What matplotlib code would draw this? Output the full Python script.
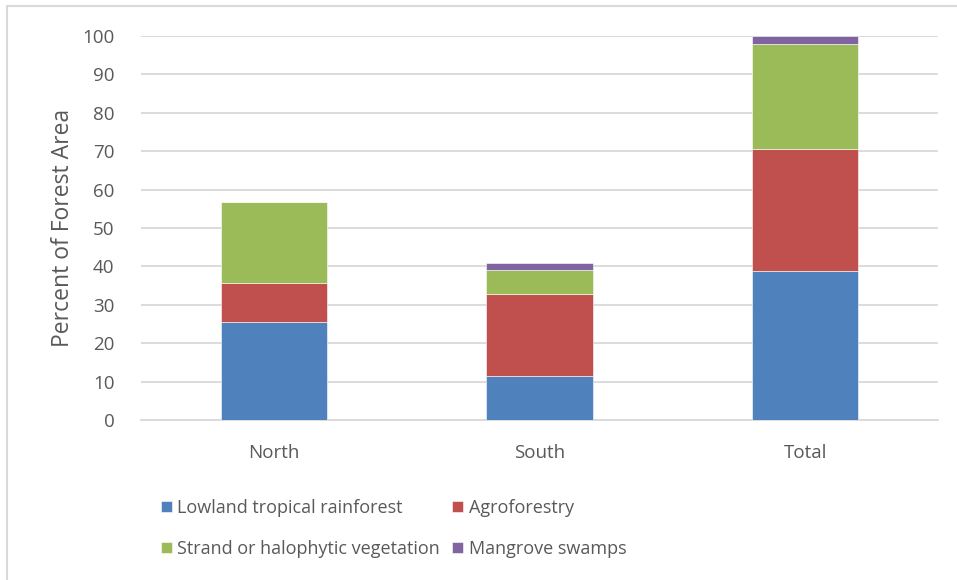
import matplotlib.pyplot as plt
import numpy as np
from matplotlib.patches import Rectangle

# data
regions = ['North', 'South', 'Total']
lowland = [25.4, 11.5, 38.9]
agro = [10.4, 21.3, 31.7]
strand = [21.1, 6.3, 27.3]
mangrove = [0.0, 1.8, 2.1]

series = [
    ('Lowland tropical rainforest', lowland, '#4f81bd'),
    ('Agroforestry', agro, '#c0504d'),
    ('Strand or halophytic vegetation', strand, '#9bbb59'),
    ('Mangrove swamps', mangrove, '#8064a2'),
]

plt.rcParams['font.family'] = ['Open Sans', 'DejaVu Sans']
txt = '#595959'

W, H = 957, 580
fig = plt.figure(figsize=(W / 100, H / 100), dpi=100)
ax = fig.add_axes([141 / W, 1 - 420 / H, (938 - 141) / W, (420 - 36) / H])

x = np.arange(len(regions))
bottom = np.zeros(len(regions))
handles = []
for name, vals, col in series:
    b = ax.bar(x, vals, 0.4, bottom=bottom, color=col, label=name,
               edgecolor='white', linewidth=0.4, zorder=3)
    handles.append(b)
    bottom += np.array(vals)

ax.set_xlim(-0.5, 2.5)
ax.set_ylim(0, 100)
ax.set_yticks(np.arange(0, 101, 10))
ax.yaxis.grid(True, color='#d9d9d9', linewidth=1.3, zorder=0)
ax.set_axisbelow(True)
for s in ['top', 'right', 'left']:
    ax.spines[s].set_visible(False)
ax.spines['bottom'].set_color('#d9d9d9')
ax.spines['bottom'].set_linewidth(1.3)
ax.tick_params(axis='both', length=0, colors=txt, labelsize=13.5)
ax.tick_params(axis='y', pad=19)
ax.tick_params(axis='x', pad=17)
ax.set_xticks(x)
ax.set_xticklabels(regions)
ax.set_ylabel('Percent of Forest Area', color=txt, fontsize=16.5, labelpad=5)

# matplotlib fills legend columns first, so reorder to get row order
order = [0, 2, 1, 3]
leg = fig.legend(handles=[handles[i] for i in order], loc='upper left',
                 bbox_to_anchor=(152 / W, 1 - 490 / H),
                 ncol=2, frameon=False, fontsize=13, labelcolor=txt,
                 handlelength=0.6, handleheight=0.6, handletextpad=0.3,
                 columnspacing=0.68, labelspacing=1.25, borderpad=0)

# chart area border
fig.patches.append(Rectangle((7.5 / W, -0.1), 1.2, 1 - 5.5 / H + 0.1,
                             transform=fig.transFigure, fill=False,
                             edgecolor='#d9d9d9', linewidth=1.5))

fig.savefig('out.png', dpi=100)
